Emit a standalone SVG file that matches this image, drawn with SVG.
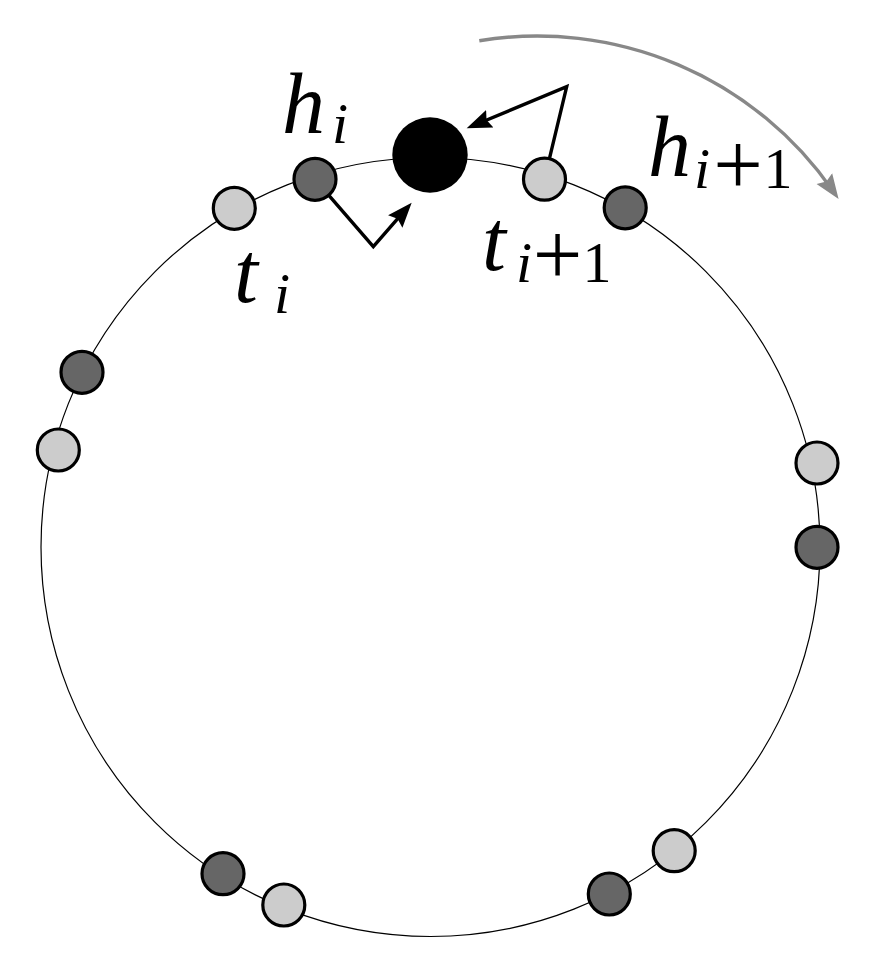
<svg xmlns="http://www.w3.org/2000/svg" width="891" height="968" viewBox="0 0 891 968">
<style>
.ring{fill:none;stroke:#000;stroke-width:1.2}
.t{fill:#cccccc;stroke:#000;stroke-width:3.2}
.h{fill:#666666;stroke:#000;stroke-width:3.2}
.blk{fill:none;stroke:#000;stroke-width:3.4;stroke-linejoin:miter}
.gry{fill:none;stroke:#888888;stroke-width:3.4}
</style>
<defs>
<marker id="ab" viewBox="0 -11 32 22" refX="15" refY="0" markerWidth="32" markerHeight="22" markerUnits="userSpaceOnUse" orient="auto">
<path d="M25,0 L0,-9.5 L3.5,0 L0,9.5 Z" fill="#000"/>
</marker>
<marker id="ag" viewBox="0 -11 32 22" refX="15" refY="0" markerWidth="32" markerHeight="22" markerUnits="userSpaceOnUse" orient="auto">
<path d="M25,0 L0,-9.5 L3.5,0 L0,9.5 Z" fill="#888888"/>
</marker>
</defs>
<circle class="ring" cx="430.5" cy="547" r="389.5"/>
<g id="connectors">
<polyline class="blk" points="315,179.3 373.3,246.7 405.1,210.2" marker-end="url(#ab)"/>
<polyline class="blk" points="544.5,179.2 566.7,86.7 475.9,124.5" marker-end="url(#ab)"/>
<path class="gry" d="M479.3,40.7 A359.5,359.5 0 0 1 832.9,190.9" marker-end="url(#ag)"/>
</g>
<g id="center"><circle cx="430" cy="155" r="37.7" fill="#000"/></g>
<g id="t1"><circle class="t" cx="234.3" cy="208.3" r="21"/></g>
<g id="h1"><circle class="h" cx="315" cy="179.3" r="21"/></g>
<g id="t2"><circle class="t" cx="544.5" cy="179.2" r="21"/></g>
<g id="h2"><circle class="h" cx="625.2" cy="207.8" r="21"/></g>
<g id="h3"><circle class="h" cx="82" cy="372.3" r="21"/></g>
<g id="t3"><circle class="t" cx="58.3" cy="450" r="21"/></g>
<g id="t4"><circle class="t" cx="817" cy="463" r="21"/></g>
<g id="h4"><circle class="h" cx="817" cy="547.3" r="21"/></g>
<g id="h5"><circle class="h" cx="223" cy="873.7" r="21"/></g>
<g id="t5"><circle class="t" cx="283.8" cy="905" r="21"/></g>
<g id="h6"><circle class="h" cx="609.3" cy="894" r="21"/></g>
<g id="t6"><circle class="t" cx="674.2" cy="850.7" r="21"/></g>
<g id="labels" font-family="Liberation Serif, Times New Roman, serif" fill="#000">
<text x="282" y="133" font-size="86" font-style="italic">h</text>
<text x="332" y="143" font-size="58" font-style="italic">i</text>
<text x="234" y="302" font-size="86" font-style="italic">t</text>
<text x="274" y="313" font-size="58" font-style="italic">i</text>
<text x="482" y="270" font-size="86" font-style="italic">t</text>
<text x="516" y="282" font-size="58" font-style="italic">i</text>
<text x="557.5" y="284" font-size="88" text-anchor="middle">+</text>
<text x="597" y="282" font-size="58" text-anchor="middle">1</text>
<text x="648" y="176" font-size="86" font-style="italic">h</text>
<text x="694" y="188" font-size="58" font-style="italic">i</text>
<text x="738" y="194" font-size="88" text-anchor="middle">+</text>
<text x="778" y="188" font-size="58" text-anchor="middle">1</text>
</g>
</svg>
